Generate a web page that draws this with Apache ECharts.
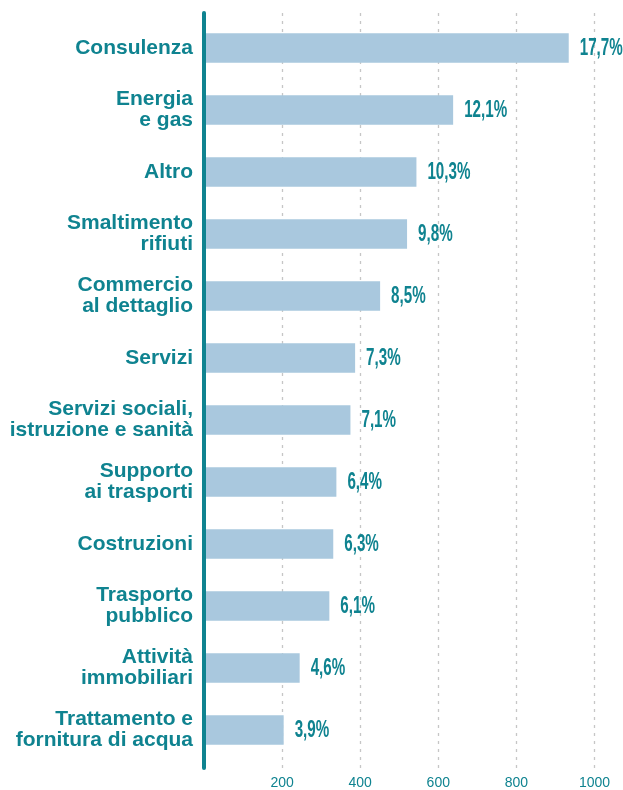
<!DOCTYPE html>
<html>
<head>
<meta charset="utf-8">
<script src="https://cdn.jsdelivr.net/npm/echarts@6/dist/echarts.min.js"></script>
<style>
  html, body { margin: 0; padding: 0; background: #ffffff; }
  #chart { width: 623px; height: 790px; }
</style>
</head>
<body>
<div id="chart"></div>
<script>
// Sectors, top to bottom
const categories = [
  'Consulenza',
  'Energia\ne gas',
  'Altro',
  'Smaltimento\nrifiuti',
  'Commercio\nal dettaglio',
  'Servizi',
  'Servizi sociali,\nistruzione e sanità',
  'Supporto\nai trasporti',
  'Costruzioni',
  'Trasporto\npubblico',
  'Attività\nimmobiliari',
  'Trattamento e\nfornitura di acqua'
];

// Number of cases per sector
const counts = [934, 638, 544, 520, 451, 387, 375, 339, 331, 321, 245, 204];

// Bottom axis tick labels
const xTicks = [200, 400, 600, 800, 1000];

const TEAL = '#0f8390';
const BAR = '#a9c8de';
const total = counts.reduce((a, b) => a + b, 0);
const pct = v => (v / total * 100).toFixed(1).replace('.', ',') + '%';

const chart = echarts.init(document.getElementById('chart'));

chart.setOption({
  animation: false,
  grid: [
    // bars
    { left: 204, width: 390.5, top: 17, height: 744 },
    // frame: dotted gridlines, bottom labels and the left rule
    { left: 204, width: 390.5, top: 13, height: 758 }
  ],
  xAxis: [
    {
      gridIndex: 0, type: 'value', min: 0, max: 1000, interval: 200,
      show: false
    },
    {
      gridIndex: 1, type: 'value', min: 0, max: 1000, interval: 200,
      axisLine: { show: false },
      axisTick: { show: false },
      axisLabel: {
        color: TEAL, fontSize: 14, fontFamily: 'Liberation Sans, Arial, sans-serif',
        margin: 8,
        formatter: v => (xTicks.indexOf(v) >= 0 ? String(v) : '')
      },
      splitLine: {
        show: true,
        lineStyle: { color: '#c6c6c6', width: 1.3, type: [3, 5] }
      }
    }
  ],
  yAxis: [
    {
      gridIndex: 0, type: 'category', data: categories, inverse: true,
      axisLine: { show: false },
      axisTick: { show: false },
      splitLine: { show: false },
      axisLabel: {
        color: TEAL, fontSize: 21, fontWeight: 'bold', lineHeight: 21,
        fontFamily: 'Liberation Sans, Arial, sans-serif',
        margin: 11, align: 'right'
      }
    },
    {
      gridIndex: 1, type: 'value', min: 0, max: 1, z: 5,
      axisLine: { show: true, lineStyle: { color: TEAL, width: 4 } },
      axisTick: { show: false },
      axisLabel: { show: false },
      splitLine: { show: false }
    }
  ],
  series: [
    {
      type: 'bar',
      xAxisIndex: 0,
      yAxisIndex: 0,
      data: counts,
      barWidth: 29.5,
      itemStyle: { color: BAR }
    },
    {
      // share labels in a narrow face, placed just past each bar end
      type: 'custom',
      xAxisIndex: 0,
      yAxisIndex: 0,
      data: counts.map((v, i) => [v, i]),
      renderItem: (params, api) => {
        const pt = api.coord([api.value(0), api.value(1)]);
        return {
          type: 'text',
          x: pt[0] + 11,
          y: pt[1] + 1,
          scaleX: 0.66,
          style: {
            text: pct(api.value(0)),
            fill: TEAL,
            font: 'bold 23px "Liberation Sans", Arial, sans-serif',
            align: 'left',
            verticalAlign: 'middle'
          }
        };
      }
    }
  ]
});
</script>
</body>
</html>
